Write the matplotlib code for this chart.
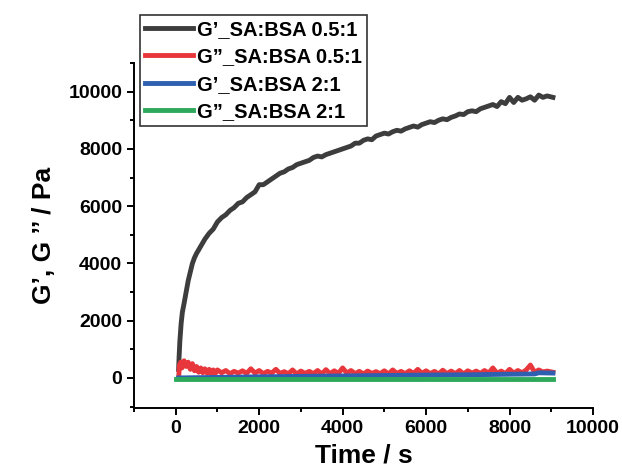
import matplotlib
matplotlib.use('Agg')
import matplotlib.pyplot as plt
from matplotlib.ticker import MultipleLocator

plt.rcParams['font.family'] = ['Liberation Sans', 'DejaVu Sans']
plt.rcParams['font.weight'] = 'bold'

# G' SA:BSA 0.5:1
t_g1 = [70, 80, 100, 130, 160, 200, 250, 300, 350, 400, 450, 500, 600, 700, 800, 900,
        1000, 1100, 1200, 1300, 1400, 1500, 1600, 1700, 1800, 1900, 2000, 2100, 2200,
        2300, 2400, 2500, 2600, 2700, 2800, 2900, 3000, 3100, 3200, 3300, 3400, 3500,
        3600, 3700, 3800, 3900, 4000, 4100, 4200, 4300, 4400, 4500, 4600, 4700, 4800,
        4900, 5000, 5100, 5200, 5300, 5400, 5500, 5600, 5700, 5800, 5900, 6000, 6100,
        6200, 6300, 6400, 6500, 6600, 6700, 6800, 6900, 7000, 7100, 7200, 7300, 7400,
        7500, 7600, 7700, 7800, 7900, 8000, 8100, 8200, 8300, 8400, 8500, 8600, 8700,
        8800, 8900, 9040]
g1 = [300, 700, 1300, 1900, 2300, 2600, 3000, 3400, 3700, 4000, 4200, 4350, 4600, 4850,
      5050, 5200, 5450, 5600, 5700, 5850, 5950, 6100, 6150, 6300, 6400, 6500, 6750, 6750,
      6850, 6950, 7050, 7150, 7200, 7300, 7350, 7450, 7500, 7550, 7600, 7700, 7750, 7720,
      7800, 7850, 7900, 7950, 8000, 8050, 8100, 8200, 8200, 8300, 8350, 8320, 8450, 8500,
      8550, 8520, 8600, 8650, 8620, 8700, 8750, 8800, 8760, 8850, 8900, 8950, 8920, 9000,
      9050, 9020, 9100, 9150, 9220, 9200, 9300, 9330, 9300, 9400, 9450, 9500, 9550, 9480,
      9650, 9580, 9800, 9620, 9800, 9700, 9750, 9820, 9700, 9880, 9800, 9850, 9800]

# G'' SA:BSA 0.5:1
t_g2 = [70, 90, 120, 150, 200, 250, 300, 350, 400, 450, 500, 550, 600, 650, 700, 750,
        800, 850, 900, 950, 1000, 1100, 1200, 1300, 1400, 1500, 1600, 1700, 1800, 1900,
        2000, 2100, 2200, 2300, 2400, 2500, 2600, 2700, 2800, 2900, 3000, 3100, 3200,
        3300, 3400, 3500, 3600, 3700, 3800, 3900, 4000, 4100, 4200, 4300, 4400, 4500,
        4600, 4700, 4800, 4900, 5000, 5100, 5200, 5300, 5400, 5500, 5600, 5700, 5800,
        5900, 6000, 6100, 6200, 6300, 6400, 6500, 6600, 6700, 6800, 6900, 7000, 7100,
        7200, 7300, 7400, 7500, 7600, 7700, 7800, 7900, 8000, 8100, 8200, 8300, 8400,
        8500, 8600, 8700, 8800, 8900, 9040]
g2 = [0, 450, 550, 350, 600, 400, 550, 300, 500, 250, 400, 200, 350, 180, 320, 170,
      300, 150, 280, 160, 280, 180, 260, 150, 230, 170, 250, 160, 320, 170, 260, 150,
      230, 170, 300, 160, 220, 150, 280, 140, 240, 160, 230, 150, 260, 140, 290, 150,
      250, 160, 350, 170, 260, 150, 230, 140, 240, 160, 220, 150, 250, 140, 280, 160,
      230, 150, 250, 160, 300, 160, 250, 150, 230, 140, 270, 150, 240, 150, 260, 140,
      250, 170, 240, 160, 260, 170, 350, 160, 240, 150, 300, 170, 260, 180, 280, 450,
      200, 280, 210, 240, 200]

# G' SA:BSA 2:1
t_g3 = [70, 1000, 2000, 3000, 4000, 5000, 6000, 7000, 8000, 8600, 8700, 9040]
g3 = [0, 20, 40, 55, 70, 85, 100, 110, 130, 140, 180, 170]

# G'' SA:BSA 2:1
t_g4 = [0, 9040]
g4 = [-20, -20]

labels = ['G’_SA:BSA 0.5:1', 'G”_SA:BSA 0.5:1', 'G’_SA:BSA 2:1', 'G”_SA:BSA 2:1']
colors = ['#3d3d3d', '#e8373c', '#2e5fb0', '#2ea85a']

fig = plt.figure(figsize=(6.22, 4.73), dpi=100)
ax = fig.add_axes([0.2154, 0.1374, 0.738, 0.7294])

for t, g, lab, c in zip([t_g1, t_g2, t_g3, t_g4], [g1, g2, g3, g4], labels, colors):
    ax.plot(t, g, color=c, lw=3.5, label=lab)

ax.set_xlim(-1000, 10000)
ax.set_ylim(-1050, 11000)
ax.xaxis.set_major_locator(MultipleLocator(2000))
ax.xaxis.set_minor_locator(MultipleLocator(1000))
ax.yaxis.set_major_locator(MultipleLocator(2000))
ax.yaxis.set_minor_locator(MultipleLocator(1000))
for s in ['top', 'right']:
    ax.spines[s].set_visible(False)
for s in ['left', 'bottom']:
    ax.spines[s].set_linewidth(1.4)
ax.tick_params(which='major', direction='out', length=5, width=1.4, labelsize=14)
ax.tick_params(which='minor', direction='out', length=3, width=1.4)
for lbl in ax.get_xticklabels() + ax.get_yticklabels():
    lbl.set_fontweight('bold')

ax.set_xlabel('Time / s', fontsize=19, fontweight='bold', labelpad=5)
ax.set_ylabel('G’, G ’’ / Pa', fontsize=19, fontweight='bold', labelpad=9)

leg = fig.legend(loc='upper left', bbox_to_anchor=(140 / 622, 1 - 15 / 473),
                 prop={'size': 14.5, 'weight': 'bold'}, frameon=True, fancybox=False,
                 edgecolor='black', handlelength=2.4, handletextpad=0.2,
                 labelspacing=0.42, borderpad=0.25, borderaxespad=0)
leg.get_frame().set_linewidth(1.2)

fig.savefig('out.png', dpi=100)
